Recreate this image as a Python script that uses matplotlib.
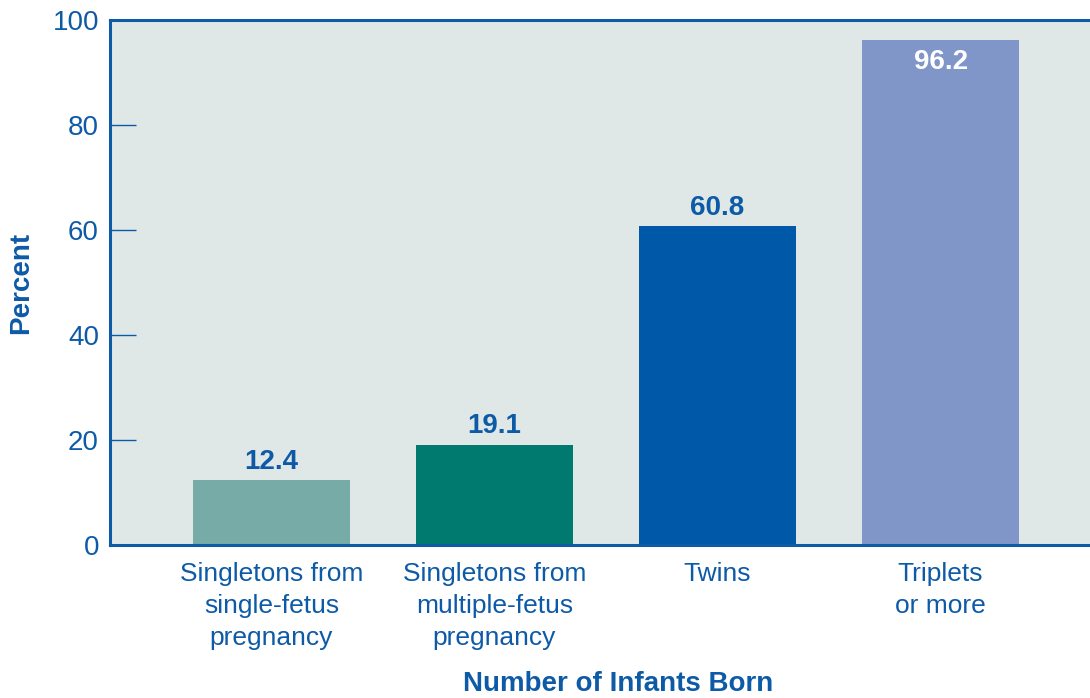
import matplotlib
matplotlib.use("Agg")
import matplotlib.pyplot as plt

# data
categories = ["Singletons from\nsingle-fetus\npregnancy",
              "Singletons from\nmultiple-fetus\npregnancy",
              "Twins",
              "Triplets\nor more"]
values = [12.4, 19.1, 60.8, 96.2]
bar_colors = ["#76aba8", "#007a6e", "#0059a8", "#8096c9"]
yticks = [0, 20, 40, 60, 80, 100]

blue = "#0d5aa7"
plt.rcParams["font.family"] = ["Liberation Sans", "DejaVu Sans"]

fig = plt.figure(figsize=(10.9, 6.98), dpi=100)
ax = fig.add_axes([110 / 1090, 1 - 545 / 698, 1 - 110 / 1090, (545 - 20) / 698])
ax.set_facecolor("#dfe8e6")

x = list(range(len(values)))
ax.bar(x, values, width=0.705, color=bar_colors, zorder=2)

for xi, v in zip(x, values):
    if v > 90:
        ax.text(xi, v - 1.8, f"{v:.1f}", ha="center", va="top", color="white",
                fontsize=20, fontweight="bold")
    else:
        ax.text(xi, v + 1.0, f"{v:.1f}", ha="center", va="bottom", color=blue,
                fontsize=20, fontweight="bold")

ax.set_xlim(-0.724, 3.67)
ax.set_ylim(0, 100)
ax.set_yticks(yticks)
ax.set_xticks(x)
ax.set_xticklabels(categories, fontsize=19, color=blue, linespacing=1.42)
ax.tick_params(axis="y", direction="in", length=19, width=1.0, color=blue,
               labelsize=20, labelcolor=blue, pad=8)
ax.tick_params(axis="x", length=0, pad=12)

for s in ["left", "bottom", "top"]:
    ax.spines[s].set_color(blue)
    ax.spines[s].set_linewidth(2.2)
ax.spines["right"].set_visible(False)

ax.set_ylabel("Percent", fontsize=20, fontweight="bold", color=blue)
ax.yaxis.set_label_coords(-76 / 980, 0.5)
ax.set_xlabel("Number of Infants Born", fontsize=20, fontweight="bold", color=blue)
ax.xaxis.set_label_coords(0.518, -126 / 525)

fig.savefig("out.png", dpi=100)
